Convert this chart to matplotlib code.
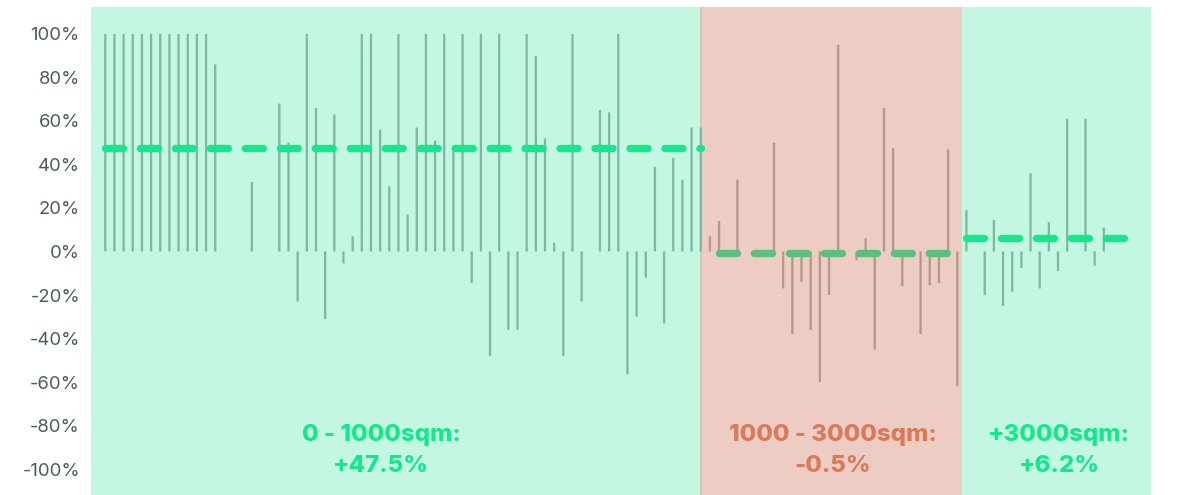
import matplotlib
matplotlib.use('Agg')
from matplotlib import pyplot as plt

# price change per site, sorted by size band (fraction, 1.0 = 100%)
small_sites = [1.0, 1.0, 1.0, 1.0, 1.0, 1.0, 1.0, 1.0, 1.0, 1.0, 1.0, 1.0, 0.86,
               0, 0, 0, 0.32, 0, 0, 0.68, 0.50, -0.23, 1.0, 0.66, -0.31, 0.63,
               -0.055, 0.07, 1.0, 1.0, 0.56, 0.30, 1.0, 0.17, 0.57, 1.0, 0.51,
               1.0, 0.46, 1.0, -0.145, 1.0, -0.48, 1.0, -0.36, -0.36, 1.0, 0.90,
               0.52, 0.04, -0.48, 1.0, -0.23, 0, 0.65, 0.64, 1.0, -0.565, -0.30,
               -0.12, 0.39, -0.33, 0.43, 0.33, 0.57, 0.57]
mid_sites = [0.07, 0.14, 0, 0.33, 0, 0, 0, 0.50, -0.17, -0.38, -0.14, -0.36,
             -0.60, -0.20, 0.95, 0, -0.04, 0.06, -0.45, 0.66, 0.475, -0.16, 0,
             -0.38, -0.155, -0.145, 0.47, -0.62]
large_sites = [0.19, 0, -0.20, 0.145, -0.25, -0.185, -0.075, 0.36, -0.17,
               0.135, -0.09, 0.61, 0, 0.61, -0.065, 0.11]

band_labels = ['0 - 1000sqm:', '1000 - 3000sqm:', '+3000sqm:']
band_means = [0.475, -0.005, 0.062]

y_ticks = [1.0, 0.8, 0.6, 0.4, 0.2, 0.0, -0.2, -0.4, -0.6, -0.8, -1.0]
y_ticklabels = ['100%', '80%', '60%', '40%', '20%', '0%', '-20%', '-40%',
                '-60%', '-80%', '-100%']

GREEN_BG = '#C4F7E2'
RED_BG = '#EDCCC4'
GREEN = '#16E68C'
SALMON = '#D97B58'

plt.rcParams['font.family'] = ['Inter', 'DejaVu Sans']

fig = plt.figure(figsize=(11.78, 4.95), dpi=100)
ax = fig.add_axes([91 / 1178, 0, 1060 / 1178, 488 / 495])

n1 = len(small_sites)
n2 = len(mid_sites)
n3 = len(large_sites)
x1 = list(range(0, n1))
x2 = list(range(n1, n1 + n2))
x3 = list(range(n1 + n2, n1 + n2 + n3))

# background bands
ax.axvspan(-2, 65.0, color=GREEN_BG, lw=0, zorder=0)
ax.axvspan(65.0, 93.55, color=RED_BG, lw=0, zorder=0)
ax.axvspan(93.55, 120, color=GREEN_BG, lw=0, zorder=0)
ax.axvline(65.0, color='#C8C4AC', lw=1.2, zorder=0.5)

bw = 0.25
ax.bar(x1, small_sites, width=bw, color='#7DB9A0', zorder=2, snap=False)
ax.bar(x2, mid_sites, width=bw, color='#B4988C', zorder=2, snap=False)
ax.bar(x3, large_sites, width=bw, color='#7DB9A0', zorder=2, snap=False)

# band averages
dash = dict(lw=5.3, linestyle=(0, (2.45, 2.3)), dash_capstyle='round', zorder=3)
ax.plot([0, n1 - 1], [band_means[0]] * 2, color=GREEN, **dash)
ax.plot([n1 + 1, n1 + n2 - 1], [band_means[1]] * 2, color='#5BBF7E', **dash)
ax.plot([n1 + n2, 112], [band_means[2]] * 2, color=GREEN, **dash)

txt = dict(ha='center', va='center', fontsize=17.3, fontweight='heavy',
           linespacing=1.5, zorder=4)
ax.text(30.1, -0.915, band_labels[0] + '\n+47.5%', color=GREEN, **txt)
ax.text(79.4, -0.915, band_labels[1] + '\n-0.5%', color=SALMON, **txt)
ax.text(104.1, -0.915, band_labels[2] + '\n+6.2%', color=GREEN, **txt)

ax.set_xlim(-1.56, 114.15)
ax.set_ylim(-1.1195, 1.1241)
ax.set_yticks(y_ticks)
ax.set_yticklabels(y_ticklabels, fontsize=13.3, color='#4D5B5B')
ax.tick_params(axis='y', length=0, pad=8)
ax.set_xticks([])
for s in ax.spines.values():
    s.set_visible(False)

fig.savefig('out.png', dpi=100)
